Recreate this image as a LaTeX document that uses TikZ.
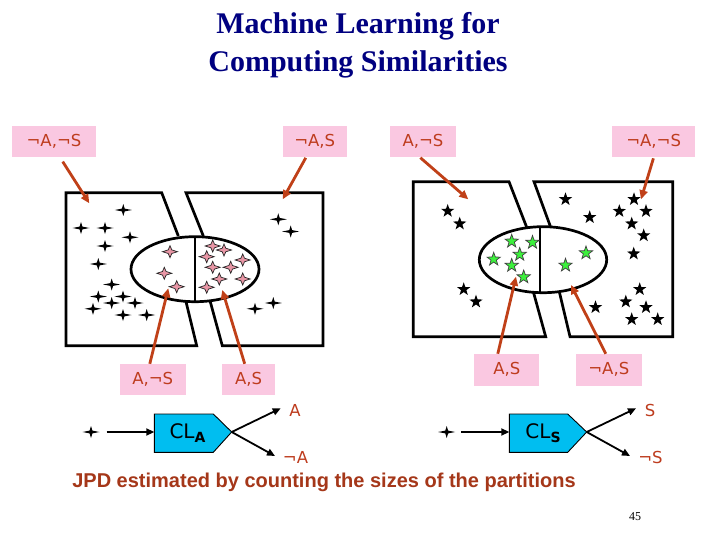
\documentclass[tikz,border=0pt]{standalone}
\usepackage{fontspec}
\setmainfont{Liberation Serif}
\newfontfamily\lblfont{DejaVu Sans}
\newfontfamily\arialfont{Liberation Sans}
\usetikzlibrary{arrows.meta}
\definecolor{arrowred}{RGB}{192,64,24}
\definecolor{lblred}{RGB}{190,60,30}
\definecolor{pinkbg}{RGB}{250,200,225}
\definecolor{pinkstar}{RGB}{232,150,165}
\definecolor{starfill}{RGB}{60,240,60}
\definecolor{clcyan}{RGB}{0,190,240}
\definecolor{navy}{RGB}{0,0,128}
\definecolor{captred}{RGB}{165,55,25}
\tikzset{
  spark/.pic={\path[pic actions] (-8.5,0) -- (-1.4,-1.4) -- (0,-6) -- (1.4,-1.4) -- (8.5,0) -- (1.4,1.4) -- (0,6) -- (-1.4,1.4) -- cycle;},
  sparkp/.pic={\path[pic actions] (-7.5,0) -- (-1.8,-1.8) -- (0,-6) -- (1.8,-1.8) -- (7.5,0) -- (1.8,1.8) -- (0,6) -- (-1.8,1.8) -- cycle;},
  star5/.pic={\path[pic actions] (270:7) -- (306:2.8) -- (342:7) -- (18:2.8) -- (54:7) -- (90:2.8) -- (126:7) -- (162:2.8) -- (198:7) -- (234:2.8) -- cycle;},
  lbl/.style={fill=pinkbg, text=lblred, font=\lblfont\fontsize{16.5}{16.5}\selectfont, minimum height=31pt, inner sep=0pt},
  outlbl/.style={text=lblred, font=\lblfont\fontsize{16.5}{16.5}\selectfont, inner sep=0pt},
  redarr/.style={draw=arrowred, line width=2.8pt, -{Triangle[length=9pt,width=8pt]}},
  blkarr/.style={draw=black, line width=1.8pt, -{Triangle[length=8pt,width=7pt]}},
  panel/.style={draw=black, line width=2.7pt, line join=miter},
  clshape/.style={fill=clcyan, draw=black, line width=0.9pt},
  cltext/.style={font=\lblfont\fontsize{20}{20}\selectfont, inner sep=0pt},
  titletext/.style={font=\bfseries\fontsize{30}{30}\selectfont, text=navy, inner sep=0pt, anchor=base}
}
\begin{document}
\begin{tikzpicture}[x=1pt,y=-1pt]
\useasboundingbox[fill=white] (0,0) rectangle (720,540);

% title
\node[titletext] (title1) at (358,33.3) {Machine Learning for};
\node[titletext] (title2) at (358,71.7) {Computing Similarities};

% left panel
\draw[panel] (178.3,236) -- (161.7,192.7) -- (66,192.7) -- (66,345.7) -- (196.7,345.7) -- (186,301.7);
\draw[panel] (203.3,236) -- (186,192.7) -- (323,192.7) -- (323,345.7) -- (222.3,345.7) -- (210,300.7);
\draw[panel] (195,269.2) ellipse [x radius=64, y radius=32.5];
\draw[panel] (195,236.7) -- (195,301.7);

\foreach \x/\y in {123.3/210, 81/228, 105/228, 130/237.3, 105/246, 98.3/264, 111.7/284.5, 98.3/296.5, 123/296.5, 111.7/303, 135/303, 93/308.8, 123/315, 146.7/315, 278.3/219.3, 290.7/231.5, 255/308.8, 273.3/303}
  \pic[fill=black] at (\x,\y) {spark};
\foreach \x/\y in {170/251.7, 164.3/273.3, 176.7/286.7, 212.7/246, 224/250, 206.7/256.7, 242.7/260, 212.7/267.3, 230.7/267.3, 219.3/279, 242.7/279, 206.7/287.3}
  \pic[fill=pinkstar, draw=black!85, line width=0.7pt] at (\x,\y) {sparkp};

% right panel
\draw[panel] (526.7,227.3) -- (509,181.7) -- (413.3,181.7) -- (413.3,336.7) -- (545.7,336.7) -- (533.3,291.7);
\draw[panel] (550.7,227.3) -- (534,181.7) -- (672.7,181.7) -- (672.7,336.7) -- (570,336.7) -- (559.3,291.7);
\draw[panel] (543,259.7) ellipse [x radius=63.7, y radius=33];
\draw[panel] (540,226.7) -- (540,292.7);

\foreach \x/\y in {447.7/211, 459.7/223.7, 463.7/289.3, 476/301.7, 565.5/199.3, 589.7/217.3, 634/199.3, 619.3/211.2, 646/211.2, 631.7/223.7, 643.7/235.5, 633.7/253.7, 639.7/289.3, 625.8/301.7, 646/307.3, 595.5/307.3, 631.7/319.3, 657.7/319.3}
  \pic[fill=black] at (\x,\y) {star5};
\foreach \x/\y in {511.7/241.3, 532.5/242.5, 519.7/254.5, 493.7/259.3, 511.7/265.5, 523.7/277, 586/253, 565.5/265.3}
  \pic[fill=starfill, draw=black!75, line width=0.7pt] at (\x,\y) {star5};

% labels
\node[lbl, minimum width=84pt] (L1) at (54,141.7) {¬A,¬S};
\node[lbl, minimum width=64pt] (L2) at (314.7,141.7) {¬A,S};
\node[lbl, minimum width=66pt] (L3) at (423,141.7) {A,¬S};
\node[lbl, minimum width=82.7pt] (L4) at (653.7,141.7) {¬A,¬S};
\node[lbl, minimum width=65.7pt] (L5) at (152.8,379.5) {A,¬S};
\node[lbl, minimum width=52.7pt] (L6) at (248.7,379.5) {A,S};
\node[lbl, minimum width=65pt, minimum height=31.7pt] (L7) at (506.8,369.8) {A,S};
\node[lbl, minimum width=65.7pt, minimum height=31.7pt] (L8) at (608.8,369.8) {¬A,S};

\coordinate (t1) at (89.3,203.3);
\coordinate (t2) at (282.7,199.3);
\coordinate (t3) at (468.3,199.3);
\coordinate (t4) at (641,199.3);
\coordinate (b1) at (168.3,288.3);
\coordinate (b2) at (222.3,290);
\coordinate (b3) at (516,276.7);
\coordinate (b4) at (571,285);

\draw[redarr, shorten <=5pt] ([xshift=6pt]L1.south) -- (t1);
\draw[redarr, shorten <=0.5pt] ([xshift=-8.7pt]L2.south) -- (t2);
\draw[redarr, shorten <=0.5pt] ([xshift=-3pt]L3.south) -- (t3);
\draw[redarr, shorten <=1pt] (L4.south) -- (t4);
\draw[redarr] ([xshift=-3pt]L5.north) -- (b1);
\draw[redarr] ([xshift=-4pt]L6.north) -- (b2);
\draw[redarr] ([xshift=-9pt]L7.north) -- (b3);
\draw[redarr] ([xshift=-3pt]L8.north) -- (b4);

% classifier A
\draw[clshape] (154.3,414) -- (213.3,414) -- (231.7,432) -- (213.3,452.3) -- (154.3,452.3) -- cycle;
\node[cltext] (clA) at (187.5,433) {CL\raisebox{-4pt}{\fontsize{14}{14}\selectfont\bfseries A}};
\coordinate (clAin) at (154.3,432);
\coordinate (clAtip) at (231.7,432);
\pic[fill=black] at (91,432) {spark};
\coordinate (inA) at (106.7,432);
\coordinate (oA1) at (280.7,408.3);
\coordinate (oA2) at (275,456);
\draw[blkarr] (inA) -- (clAin);
\draw[blkarr] (clAtip) -- (oA1);
\draw[blkarr] (clAtip) -- (oA2);
\node[outlbl] (lA) at (295,410.7) {A};
\node[outlbl] (lnA) at (295.5,457.3) {¬A};

% classifier S
\draw[clshape] (509.3,414) -- (567.7,414) -- (586.7,432) -- (567.7,452.3) -- (509.3,452.3) -- cycle;
\node[cltext] (clS) at (543,433) {CL\raisebox{-4pt}{\fontsize{14}{14}\selectfont\bfseries S}};
\coordinate (clSin) at (509.3,432);
\coordinate (clStip) at (586.7,432);
\pic[fill=black] at (446.7,432) {spark};
\coordinate (inS) at (461,432);
\coordinate (oS1) at (636,408.3);
\coordinate (oS2) at (630,456);
\draw[blkarr] (inS) -- (clSin);
\draw[blkarr] (clStip) -- (oS1);
\draw[blkarr] (clStip) -- (oS2);
\node[outlbl] (lS) at (650,410) {S};
\node[outlbl] (lnS) at (650.5,457.7) {¬S};

% caption
\node[font=\arialfont\bfseries\fontsize{20}{20}\selectfont, text=captred, inner sep=0pt] (cap) at (324,482) {JPD estimated by counting the sizes of the partitions};
\node[font=\fontsize{12}{12}\selectfont, inner sep=0pt] (pg) at (635,517) {45};
\end{tikzpicture}
\end{document}
